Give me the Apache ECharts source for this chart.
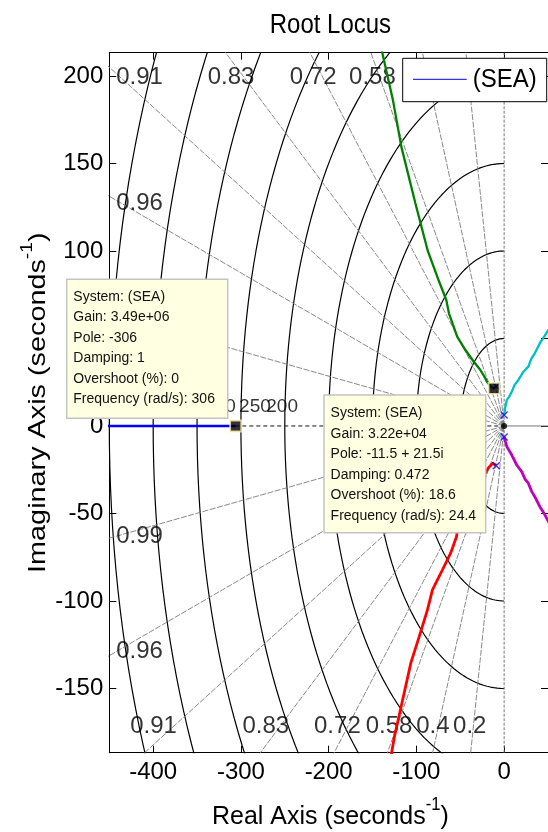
<!DOCTYPE html>
<html><head><meta charset="utf-8">
<script src="https://cdn.jsdelivr.net/npm/echarts@6/dist/echarts.min.js"></script>
<style>html,body{margin:0;padding:0;background:#fff}#c{width:548px;height:832px}</style>
</head><body><div id="c"></div>
<script>
// ---------- data ----------
const xTicks = [-400, -300, -200, -100, 0];
const yTicks = [-150, -100, -50, 0, 50, 100, 150, 200];
const zetaValues = [0.2, 0.4, 0.58, 0.72, 0.83, 0.91, 0.96, 0.99];
const zetaLabels = ['0.2', '0.4', '0.58', '0.72', '0.83', '0.91', '0.96', '0.99'];
const wnValues = [50, 100, 150, 200, 250, 300, 350, 400, 450];
const wnLabels = ['300', '250', '200'];
const wnLabelX = [-324, -284, -253];
const blueBranch = [[-470, 0], [-306, 0]];
const greenBranch = [[-9, 22.7], [-11.5, 21.5], [-15, 22.4], [-19.6, 25.3], [-21.5, 27.3], [-27.1, 32], [-34.6, 36.7], [-44.1, 43.4], [-53.5, 51], [-62.9, 64.4], [-65.9, 72], [-76, 85], [-87, 100], [-101.3, 127.6], [-117.1, 159.5], [-127, 186.9], [-138.8, 213.1], [-141, 222]];
const redBranch = [[-9, -22.7], [-13.1, -21.3], [-18.4, -24.2], [-22, -27.5], [-28, -33], [-36, -39], [-45, -46], [-52, -56], [-54.3, -63.3], [-61, -72.7], [-70.4, -82.3], [-81.7, -93.7], [-87.4, -105.1], [-96.8, -120.4], [-106.3, -135.4], [-115.7, -156.6], [-125, -177.5], [-128.1, -186.3], [-129, -195]];
const cyanBranch = [[0, 6.3], [1.1, 10.3], [3.1, 14.9], [5.5, 16.5], [8.7, 19.6], [12, 23.5], [16.3, 26.3], [21.9, 31], [27.6, 33.9], [31, 38.5], [35, 41.5], [40.7, 47.3], [46, 51.4], [52, 56]];
const magentaBranch = [[0, -6.3], [1.5, -9], [3.1, -11.8], [8.7, -16.6], [14.4, -22.3], [20, -26.1], [24, -30.5], [27.6, -32.7], [31.5, -37.5], [35, -40.4], [40.7, -46.1], [46, -50.3], [52, -56]];
const poles = [[0, 6.3], [0, -6.3], [-9, 22.7], [-9, -22.7]];
const zeros = [[0, 0]];
const tipPoints = [[-306, 0], [-11.5, 21.5]];
const tip1 = ['System: (SEA)', 'Gain: 3.49e+06', 'Pole: -306', 'Damping: 1', 'Overshoot (%): 0', 'Frequency (rad/s): 306'];
const tip2 = ['System: (SEA)', 'Gain: 3.22e+04', 'Pole: -11.5 + 21.5i', 'Damping: 0.472', 'Overshoot (%): 18.6', 'Frequency (rad/s): 24.4'];

// ---------- layout ----------
const FONT = '"Liberation Sans", Arial, Helvetica, sans-serif';
const X0 = -450, X1 = 50, Y0 = -186.7, Y1 = 213.3;
const GL = 109.3, GT = 52.7, GW = 442.2, GH = 700;
const pxX = GW / (X1 - X0), pxY = GH / (Y1 - Y0);

const series = [];
// wn circles
wnValues.forEach(wn => {
  const pts = [];
  for (let i = 0; i <= 120; i++) {
    const a = Math.PI / 2 + Math.PI * i / 120;
    pts.push([wn * Math.cos(a), wn * Math.sin(a)]);
  }
  series.push({type: 'line', data: pts, symbol: 'none', silent: true, z: 2,
    lineStyle: {color: '#000', width: 1.2}});
});
// zeta rays
zetaValues.forEach(z => {
  const s = Math.sqrt(1 - z * z);
  [1, -1].forEach(sg => {
    series.push({type: 'line', data: [[0, 0], [-1000 * z, sg * 1000 * s]], symbol: 'none', silent: true, z: 2,
      lineStyle: {color: '#7c7c7c', width: 0.9, type: [6, 1.5]}});
  });
});
// real & imaginary axes
series.push({type: 'line', data: [[X0, 0], [0, 0]], symbol: 'none', silent: true, z: 2,
  lineStyle: {color: '#111', width: 1, type: [4, 3]}});
series.push({type: 'line', data: [[0, 0], [X1, 0]], symbol: 'none', silent: true, z: 2,
  lineStyle: {color: '#777', width: 1}});
series.push({type: 'line', data: [[0, Y0], [0, Y1]], symbol: 'none', silent: true, z: 2,
  lineStyle: {color: '#777', width: 1, type: [3, 1.5]}});

// zeta labels
const zetaData = [];
zetaValues.forEach((z, i) => {
  const t = Math.sqrt(1 - z * z) / z;
  const insetX = 10 / pxX, insetY = 10 / pxY;
  [1, -1].forEach(sg => {
    const yIn = sg > 0 ? Y1 - insetY : Y0 + insetY;
    const xAt = -Math.abs(yIn) / t;
    const xIn = X0 + insetX;
    let item;
    if (xAt >= xIn) {
      item = {value: [xAt, yIn, zetaLabels[i]], label: {align: 'center', offset: sg > 0 ? [-2, 15] : [-2, -16]}};
    } else {
      item = {value: [xIn, sg * t * Math.abs(xIn), zetaLabels[i]], label: {align: 'left', offset: [-3, 1]}};
    }
    zetaData.push(item);
  });
});
series.push({type: 'scatter', data: zetaData, symbolSize: 0.1, silent: true, z: 3,
  itemStyle: {color: 'rgba(0,0,0,0)'},
  label: {show: true, position: 'inside', formatter: p => p.value[2], color: '#000', fontSize: 24, fontFamily: FONT, verticalAlign: 'middle'}});
// wn labels
series.push({type: 'scatter', data: wnLabels.map((l, i) => [wnLabelX[i], 10.9, l]), symbolSize: 0.1, silent: true, z: 3,
  itemStyle: {color: 'rgba(0,0,0,0)'},
  label: {show: true, position: 'inside', formatter: p => p.value[2], color: '#000', fontSize: 19, fontFamily: FONT, align: 'center', verticalAlign: 'middle'}});

// branches
const br = (d, c, w) => ({type: 'line', data: d, symbol: 'none', silent: true, z: 5, lineStyle: {color: c, width: w}});
series.push(br(blueBranch, '#0000ff', 2.5));
series.push(br(greenBranch, '#008000', 2.3));
series.push(br(redBranch, '#ff0000', 2.8));
series.push(br(cyanBranch, '#00bfbf', 2.3));
series.push(br(magentaBranch, '#bf00bf', 2.8));
// poles
series.push({type: 'scatter', data: poles, symbol: 'path://M0,0L10,10M10,0L0,10', symbolSize: 7, silent: true, z: 6,
  itemStyle: {color: 'none', borderColor: '#0000ff', borderWidth: 1.3}});
series.push({type: 'scatter', data: zeros, symbol: 'circle', symbolSize: 6, silent: true, z: 6,
  itemStyle: {color: '#000'}});
// datatip markers
series.push({type: 'scatter', data: tipPoints, symbol: 'rect', symbolSize: 11, silent: true, z: 7,
  itemStyle: {color: '#000', borderColor: '#fff3b0', borderWidth: 1.8}});

function tipGraphic(x, y, w, h, lines, ty) {
  return {type: 'group', x: x, y: y, z: 100, children: [
    {type: 'rect', z: 100, shape: {x: 0, y: 0, width: w, height: h}, style: {fill: '#ffffe1', stroke: '#c4c4c4', lineWidth: 1.5}},
    {type: 'text', z: 101, x: 6.6, y: ty, scaleY: 1.1, style: {text: lines.join('\n'), fontSize: 14, fontFamily: FONT, fill: '#111', lineHeight: 18.6, verticalAlign: 'top'}}
  ]};
}

const axisCommon = {
  type: 'value', min: X0, max: X1,
  axisLine: {show: true, onZero: false, lineStyle: {color: '#000', width: 1}},
  splitLine: {show: false}
};
const richName = {a: {fontSize: 24, fontFamily: FONT, lineHeight: 30, verticalAlign: 'bottom'}, s: {fontSize: 16, fontFamily: FONT, lineHeight: 16, verticalAlign: 'top'}};
const option = {
  animation: false,
  backgroundColor: '#fff',
  grid: {left: GL, top: GT, width: GW, height: GH, containLabel: false},
  xAxis: [
    Object.assign({}, axisCommon, {position: 'bottom',
      axisTick: {show: true, inside: true, length: 7, customValues: xTicks, lineStyle: {color: '#000'}},
      axisLabel: {show: true, customValues: xTicks, color: '#000', fontSize: 24, fontFamily: FONT, margin: 8}}),
    Object.assign({}, axisCommon, {position: 'top',
      axisTick: {show: true, inside: true, length: 7, customValues: xTicks, lineStyle: {color: '#000'}},
      axisLabel: {show: false}})
  ],
  yAxis: [
    {type: 'value', min: Y0, max: Y1, position: 'left',
      axisLine: {show: true, onZero: false, lineStyle: {color: '#000', width: 1}}, splitLine: {show: false},
      axisTick: {show: true, inside: true, length: 7, customValues: yTicks, lineStyle: {color: '#000'}},
      axisLabel: {show: true, customValues: yTicks, color: '#000', fontSize: 24, fontFamily: FONT, margin: 6}},
    {type: 'value', min: Y0, max: Y1, position: 'right',
      axisLine: {show: true, onZero: false, lineStyle: {color: '#000', width: 1}}, splitLine: {show: false},
      axisTick: {show: true, inside: true, length: 7, customValues: yTicks, lineStyle: {color: '#000'}},
      axisLabel: {show: false}}
  ],
  series: series,
  graphic: [
    {type: 'text', z: 100, x: GL + GW / 2, y: 26, scaleY: 1.12, style: {text: 'Root Locus', fontSize: 24, fontFamily: FONT, fill: '#000', align: 'center', verticalAlign: 'middle'}},
    {type: 'text', z: 100, x: GL + GW / 2, y: 813, scaleX: 1.04, scaleY: 1.1, style: {
      text: '{a|Real Axis (seconds}{s|-1}{a|)}', align: 'center', verticalAlign: 'middle', fill: '#000', rich: richName}},
    {type: 'text', z: 100, x: 35, y: GT + GH / 2, rotation: Math.PI / 2, scaleX: 1.2, style: {
      text: '{a|Imaginary Axis (seconds}{s|-1}{a|)}', align: 'center', verticalAlign: 'middle', fill: '#000', rich: richName}},
    // legend
    {type: 'group', z: 100, children: [
      {type: 'rect', z: 100, shape: {x: 402.7, y: 58.3, width: 144, height: 43.4}, style: {fill: '#fff', stroke: '#000', lineWidth: 1}},
      {type: 'line', z: 101, shape: {x1: 413, y1: 79.3, x2: 466.7, y2: 79.3}, style: {stroke: '#0000ff', lineWidth: 1}},
      {type: 'text', z: 101, x: 472.7, y: 80, scaleY: 1.1, style: {text: '(SEA)', fontSize: 24, fontFamily: FONT, fill: '#000', verticalAlign: 'middle'}}
    ]},
    tipGraphic(66.7, 279.3, 161, 139, tip1, 7.2),
    tipGraphic(324, 395, 161.7, 137.7, tip2, 8)
  ]
};
const chart = echarts.init(document.getElementById('c'));
chart.setOption(option);
</script>
</body></html>
